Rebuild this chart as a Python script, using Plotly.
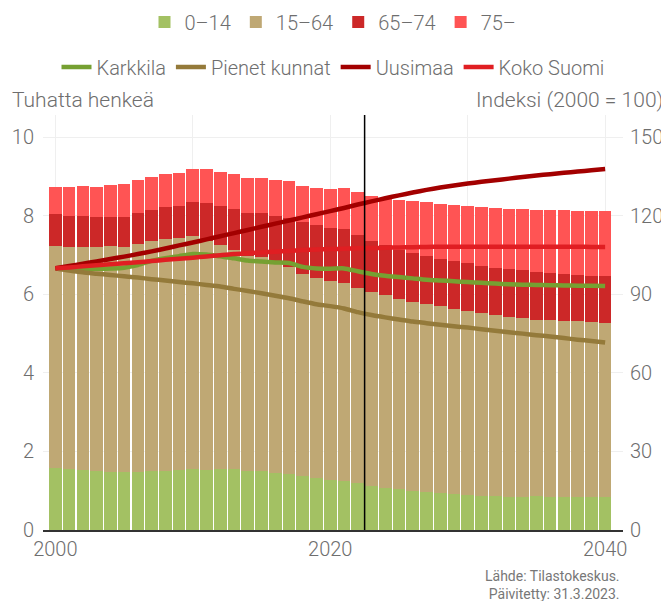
import plotly.graph_objects as go

years = list(range(2000, 2041))

# Population by age group, thousands
age_0_14 = [1.58, 1.55, 1.53, 1.50, 1.48, 1.48, 1.48, 1.50, 1.50, 1.53,
            1.55, 1.53, 1.55, 1.55, 1.50, 1.50, 1.45, 1.43, 1.38, 1.32,
            1.27, 1.25, 1.20, 1.13, 1.07, 1.04, 0.99, 0.97, 0.94, 0.92,
            0.89, 0.87, 0.87, 0.84, 0.84, 0.87, 0.84, 0.84, 0.84, 0.84, 0.84]
age_15_64 = [5.65, 5.66, 5.68, 5.71, 5.75, 5.73, 5.80, 5.86, 5.91, 5.91,
             5.94, 5.83, 5.71, 5.58, 5.48, 5.45, 5.37, 5.27, 5.14, 5.10,
             5.07, 5.04, 4.96, 4.93, 4.91, 4.84, 4.82, 4.79, 4.76, 4.71,
             4.69, 4.66, 4.61, 4.59, 4.56, 4.48, 4.51, 4.48, 4.48, 4.46, 4.43]
age_65_74 = [0.82, 0.79, 0.79, 0.76, 0.74, 0.76, 0.79, 0.79, 0.82, 0.81,
             0.86, 0.97, 0.99, 1.04, 1.09, 1.12, 1.18, 1.25, 1.32, 1.35,
             1.35, 1.37, 1.35, 1.30, 1.28, 1.25, 1.24, 1.22, 1.20, 1.22,
             1.22, 1.19, 1.19, 1.22, 1.22, 1.22, 1.19, 1.20, 1.17, 1.17, 1.20]
age_75 = [0.68, 0.73, 0.76, 0.76, 0.82, 0.84, 0.84, 0.84, 0.84, 0.84,
          0.84, 0.86, 0.87, 0.90, 0.89, 0.89, 0.91, 0.94, 0.92, 0.94,
          0.99, 1.05, 1.10, 1.15, 1.17, 1.27, 1.33, 1.37, 1.40, 1.43,
          1.45, 1.51, 1.53, 1.52, 1.55, 1.58, 1.61, 1.63, 1.63, 1.65, 1.65]

# Index series (2000 = 100)
karkkila = [100, 99.8, 99.8, 99.8, 99.9, 100.2, 101.2, 102.8, 103.8, 104.6,
            105.4, 105.2, 104.5, 103.8, 102.9, 102.5, 102.2, 102.0, 100.5, 99.9,
            99.8, 99.9, 98.8, 97.8, 97.1, 96.6, 96.1, 95.6, 95.3, 95.0,
            94.7, 94.4, 94.1, 93.9, 93.7, 93.6, 93.5, 93.4, 93.3, 93.3, 93.2]
pienet = [100, 99.1, 98.4, 97.9, 97.4, 96.9, 96.4, 95.8, 95.3, 94.7,
          94.2, 93.6, 93.0, 92.1, 91.3, 90.4, 89.5, 88.5, 87.3, 86.2,
          85.5, 84.6, 83.2, 82.1, 81.2, 80.4, 79.6, 79.0, 78.4, 77.8,
          77.3, 76.7, 76.1, 75.5, 75.0, 74.4, 73.9, 73.3, 72.7, 72.2, 71.6]
uusimaa = [100, 100.8, 101.7, 102.6, 103.5, 104.4, 105.4, 106.4, 107.5, 108.7,
           109.8, 111.0, 112.2, 113.4, 114.6, 115.8, 117.0, 118.2, 119.4, 120.6,
           121.8, 123.0, 124.3, 125.5, 126.7, 127.8, 128.9, 129.9, 130.8, 131.6,
           132.3, 133.0, 133.6, 134.2, 134.8, 135.4, 135.9, 136.4, 136.9, 137.4, 137.9]
koko_suomi = [100, 100.3, 100.7, 101.1, 101.5, 101.9, 102.3, 102.7, 103.2, 103.6,
              104.0, 104.5, 104.9, 105.4, 105.7, 106.0, 106.3, 106.6, 106.9, 107.1,
              107.3, 107.4, 107.6, 107.7, 107.8, 107.9, 108.0, 108.1, 108.2, 108.2,
              108.2, 108.2, 108.2, 108.2, 108.2, 108.2, 108.2, 108.2, 108.2, 108.1, 108.1]

bar_names = ["0–14", "15–64", "65–74", "75–"]
bar_colors = ["#a3c163", "#bfa874", "#cc2828", "#ff5454"]
line_names = ["Karkkila", "Pienet kunnat", "Uusimaa", "Koko Suomi"]
line_colors = ["#76a032", "#947a3a", "#a30000", "#e01e22"]

FONT = "Roboto"
GREY = "#6e6e6e"
OFF = 8  # page body margin offset

fig = go.Figure()
for name, vals, col in zip(bar_names, [age_0_14, age_15_64, age_65_74, age_75], bar_colors):
    fig.add_trace(go.Bar(x=years, y=vals, name=name, marker_color=col,
                         marker_line_width=0, legend="legend"))

for name, vals, col in zip(line_names, [karkkila, pienet, uusimaa, koko_suomi], line_colors):
    fig.add_trace(go.Scatter(x=years, y=vals, name=name, mode="lines",
                             line=dict(color=col, width=4.5, shape="spline", smoothing=0.6),
                             yaxis="y2", legend="legend2"))

fig.add_shape(type="line", x0=2022.5, x1=2022.5, xref="x", y0=0, y1=1, yref="paper",
              line=dict(color="black", width=1.5))

tickfont = dict(size=20, color=GREY, weight=300)
fig.update_layout(
    width=669, height=601,
    margin=dict(l=43 - OFF, r=46 + OFF, t=115 - OFF, b=71 + OFF, autoexpand=False),
    paper_bgcolor="white", plot_bgcolor="white",
    barmode="stack", bargap=0.08,
    font=dict(family=FONT, color=GREY, size=19),
    xaxis=dict(range=[1999.1, 2041.3], tickvals=[2000, 2010, 2020, 2030, 2040],
               ticktext=["2000", "", "2020", "", "2040"],
               showgrid=True, gridcolor="#efefef", gridwidth=1,
               showline=True, linecolor="#333333", linewidth=2,
               ticks="", tickfont=tickfont, zeroline=False, automargin=False),
    yaxis=dict(range=[0, 10.568], tickvals=[0, 2, 4, 6, 8, 10],
               showgrid=True, gridcolor="#efefef", gridwidth=1,
               zeroline=False, ticks="", tickfont=tickfont, automargin=False,
               ticklabelstandoff=8),
    yaxis2=dict(range=[0, 158.5], tickvals=[0, 30, 60, 90, 120, 150],
                overlaying="y", side="right", showgrid=False, zeroline=False,
                ticks="", tickfont=tickfont, automargin=False,
                ticklabelstandoff=6),
    legend=dict(orientation="h", xref="container", yref="container",
                x=(333 - OFF) / 669, xanchor="center", y=1 - (22 - OFF) / 601, yanchor="middle",
                traceorder="normal",
                font=dict(size=20, color=GREY, weight=300), itemclick=False,
                bgcolor="rgba(0,0,0,0)"),
    legend2=dict(orientation="h", xref="container", yref="container",
                 x=(333 - OFF) / 669, xanchor="center", y=1 - (67 - OFF) / 601, yanchor="middle",
                 traceorder="normal",
                 font=dict(size=20, color=GREY, weight=300), itemclick=False,
                 bgcolor="rgba(0,0,0,0)"),
    annotations=[
        dict(text="Tuhatta henkeä", xref="paper", yref="paper",
             x=(10 - 43) / 580, y=(530 - 100) / 415, xanchor="left", yanchor="middle",
             showarrow=False, font=dict(size=21, color=GREY, weight=300)),
        dict(text="Indeksi (2000 = 100)", xref="paper", yref="paper",
             x=(665 - 43) / 580, y=(530 - 100) / 415, xanchor="right", yanchor="middle",
             showarrow=False, font=dict(size=21, color=GREY, weight=300)),
        dict(text="Lähde: Tilastokeskus.<br>Päivitetty: 31.3.2023.", xref="paper", yref="paper",
             x=(622 - 43) / 580, y=(530 - 566) / 415, xanchor="right", yanchor="top",
             align="right", showarrow=False, font=dict(size=14, color="#777777")),
    ],
)

fig.write_html("out.html")
